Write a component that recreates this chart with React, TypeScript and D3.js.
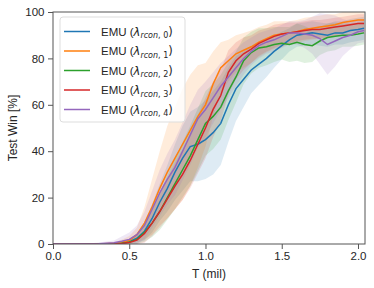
import * as React from "react";
import * as d3 from "d3";

// shared x grid (million steps)
const steps = [0, 0.1, 0.2, 0.3, 0.4, 0.45, 0.5, 0.55, 0.6, 0.65, 0.7, 0.75, 0.8, 0.85, 0.9, 0.95, 1.0, 1.05, 1.1, 1.15, 1.2, 1.25, 1.3, 1.35, 1.4, 1.45, 1.5, 1.55, 1.6, 1.65, 1.7, 1.75, 1.8, 1.85, 1.9, 1.95, 2.0, 2.04];

const mean0 = [0, 0, 0, 0, 0.2, 0.5, 1, 2.5, 5.5, 11, 18, 24, 31, 37, 42, 43, 45, 48, 52, 60, 67, 71, 75, 77.5, 80, 83, 85.5, 88, 90, 90.5, 91, 90.5, 90, 91, 91, 92, 92.5, 93];
const mean1 = [0, 0, 0, 0, 0.3, 0.8, 1.5, 4, 9, 16, 24, 31, 37, 43, 49, 55, 60, 69, 76, 79, 82, 83.5, 85, 87, 88.5, 90, 90.5, 91, 91.5, 92.5, 93, 93.5, 94, 94.5, 95.5, 96, 96.5, 96.5];
const mean2 = [0, 0, 0, 0, 0.1, 0.3, 0.8, 2, 5, 9, 14, 20, 26, 32, 38, 45, 52, 55, 59, 66, 72, 79, 82.5, 84.5, 85, 86, 86.5, 86, 87, 86, 85.5, 87.5, 89, 89.5, 90, 90, 90.5, 91];
const mean3 = [0, 0, 0, 0, 0, 0.2, 0.6, 1.7, 4.5, 9, 14, 19.5, 25, 30, 36, 43, 50, 58, 64, 74, 79, 82, 84, 86.5, 88, 89.5, 90.5, 91, 91.5, 92, 92.5, 92.5, 93, 93.5, 94, 94.5, 95, 95];
const mean4 = [0, 0, 0, 0.1, 0.5, 1.2, 2, 4, 8, 15, 22, 28, 33, 40, 47, 54, 58, 63, 68, 72, 76, 80, 83, 85.5, 87, 88, 89.5, 91, 91, 90.5, 90, 88.5, 86, 87.5, 89, 90, 91.5, 92];

// half width of the shaded band
const spread0 = [0, 0, 0, 0, 0, 0.5, 1, 2, 4, 6, 8, 10, 12, 14, 15, 16, 17, 18, 18, 16, 14, 12, 10, 9, 8, 7, 6, 5, 5, 5, 5, 5, 5, 5, 5, 5, 5, 5];
const spread1 = [0, 0, 0, 0, 0.5, 1, 2, 3, 7, 12, 16, 20, 22, 24, 24, 22, 18, 14, 11, 9, 8, 7.5, 7, 6.5, 6, 6, 5.5, 5, 5, 5, 5, 5, 5, 4.5, 4.5, 4, 4, 4];
const spread2 = [0, 0, 0, 0, 0, 0.5, 1, 2, 4, 6, 8, 9.5, 11, 12, 13, 13.5, 14, 14, 14, 12.5, 11, 10, 9, 8.5, 8, 7.5, 7, 7.5, 8, 8, 7, 6, 6, 6, 5, 5, 5, 5];
const spread3 = [0, 0, 0, 0, 0, 0.5, 1, 2, 4, 5.5, 7, 8.5, 10, 11, 12, 12.5, 13, 12, 11, 9.5, 8, 7, 6, 5.5, 5, 5, 4.5, 4.5, 4, 4, 4, 4, 4, 4, 4, 4, 4, 4];
const spread4 = [0, 0, 0, 0.5, 1, 2, 3, 4, 6, 8, 10, 11, 12, 12.5, 13, 12.5, 12, 11, 10, 9, 8, 7, 6, 5.5, 5, 5, 5, 5, 5, 6, 8, 11, 13, 11, 8, 6, 5, 5];

const labels = ["0", "1", "2", "3", "4"];
const colors = ["#1f77b4", "#ff7f0e", "#2ca02c", "#d62728", "#9467bd"];
const means = [mean0, mean1, mean2, mean3, mean4];
const spreads = [spread0, spread1, spread2, spread3, spread4];

const xTicks = [0, 0.5, 1.0, 1.5, 2.0];
const yTicks = [0, 20, 40, 60, 80, 100];

export default function App() {
    const ref = React.useRef<SVGSVGElement>(null);

    React.useEffect(() => {
        const W = 374, H = 288;
        const margin = { top: 12, right: 9, bottom: 44, left: 53 };
        const svg = d3.select(ref.current);
        svg.selectAll("*").remove();
        svg.attr("width", W).attr("height", H);

        const font = "'Liberation Sans', Arial, sans-serif";
        const x = d3.scaleLinear().domain([0, 2.046]).range([margin.left, W - margin.right]);
        const y = d3.scaleLinear().domain([0, 100]).range([H - margin.bottom, margin.top]);

        svg.append("defs").append("clipPath").attr("id", "plot")
            .append("rect")
            .attr("x", margin.left).attr("y", margin.top)
            .attr("width", W - margin.left - margin.right)
            .attr("height", H - margin.top - margin.bottom);

        const g = svg.append("g").attr("clip-path", "url(#plot)");

        means.forEach((m, s) => {
            const band = d3.area<number>()
                .x((d, i) => x(steps[i]))
                .y0((d, i) => y(Math.max(0, d - spreads[s][i])))
                .y1((d, i) => y(Math.min(100, d + spreads[s][i])));
            g.append("path")
                .datum(m)
                .attr("d", band)
                .attr("fill", colors[s])
                .attr("fill-opacity", 0.15);
        });

        const line = d3.line<number>()
            .x((d, i) => x(steps[i]))
            .y(d => y(d));

        means.forEach((m, s) => {
            g.append("path")
                .datum(m)
                .attr("d", line)
                .attr("fill", "none")
                .attr("stroke", colors[s])
                .attr("stroke-width", 1.5);
        });

        // frame
        svg.append("rect")
            .attr("x", margin.left).attr("y", margin.top)
            .attr("width", W - margin.left - margin.right)
            .attr("height", H - margin.top - margin.bottom)
            .attr("fill", "none")
            .attr("stroke", "#555")
            .attr("stroke-width", 1);

        const xAxis = svg.append("g")
            .attr("transform", `translate(0, ${H - margin.bottom})`)
            .call(d3.axisBottom(x).tickValues(xTicks).tickFormat(d3.format(".1f")).tickSizeOuter(0).tickSize(5).tickPadding(3));
        const yAxis = svg.append("g")
            .attr("transform", `translate(${margin.left}, 0)`)
            .call(d3.axisLeft(y).tickValues(yTicks).tickSizeOuter(0).tickSize(5).tickPadding(3.5));

        [xAxis, yAxis].forEach(a => {
            a.select(".domain").remove();
            a.selectAll("line").attr("stroke", "#555");
            a.selectAll("text")
                .attr("fill", "#262626")
                .style("font-family", font)
                .style("font-size", "11.5px");
        });

        svg.append("text")
            .attr("x", (margin.left + W - margin.right) / 2)
            .attr("y", 278)
            .attr("text-anchor", "middle")
            .attr("fill", "#262626")
            .style("font-family", font)
            .style("font-size", "12px")
            .text("T (mil)");

        svg.append("text")
            .attr("transform", `translate(17, ${(margin.top + H - margin.bottom) / 2}) rotate(-90)`)
            .attr("text-anchor", "middle")
            .attr("fill", "#262626")
            .style("font-family", font)
            .style("font-size", "12px")
            .text("Test Win [%]");

        // legend
        const lg = svg.append("g");
        lg.append("rect")
            .attr("x", 60).attr("y", 17)
            .attr("width", 125).attr("height", 105)
            .attr("rx", 3)
            .attr("fill", "#fff").attr("fill-opacity", 0.8)
            .attr("stroke", "#ddd");

        labels.forEach((l, i) => {
            const cy = 31.5 + i * 19.5;
            lg.append("line")
                .attr("x1", 64).attr("x2", 90)
                .attr("y1", cy).attr("y2", cy)
                .attr("stroke", colors[i])
                .attr("stroke-width", 1.5);
            const t = lg.append("text")
                .attr("x", 101).attr("y", cy + 4)
                .attr("fill", "#262626")
                .style("font-family", font)
                .style("font-size", "11.5px");
            t.append("tspan").text("EMU (");
            t.append("tspan").style("font-family", "'DejaVu Sans', sans-serif").style("font-style", "italic").text("λ");
            t.append("tspan").attr("dy", 2.5).style("font-family", "'DejaVu Sans', sans-serif").style("font-style", "italic").style("font-size", "8px").text("rcon");
            t.append("tspan").style("font-family", "'DejaVu Sans', sans-serif").style("font-size", "8px").text(", " + l);
            t.append("tspan").attr("dy", -2.5).style("font-family", "'DejaVu Sans', sans-serif").text(")");
        });
    }, []);

    return (
        <svg ref={ref} style={{ position: "absolute", left: 0, top: 0 }} />
    );
}
